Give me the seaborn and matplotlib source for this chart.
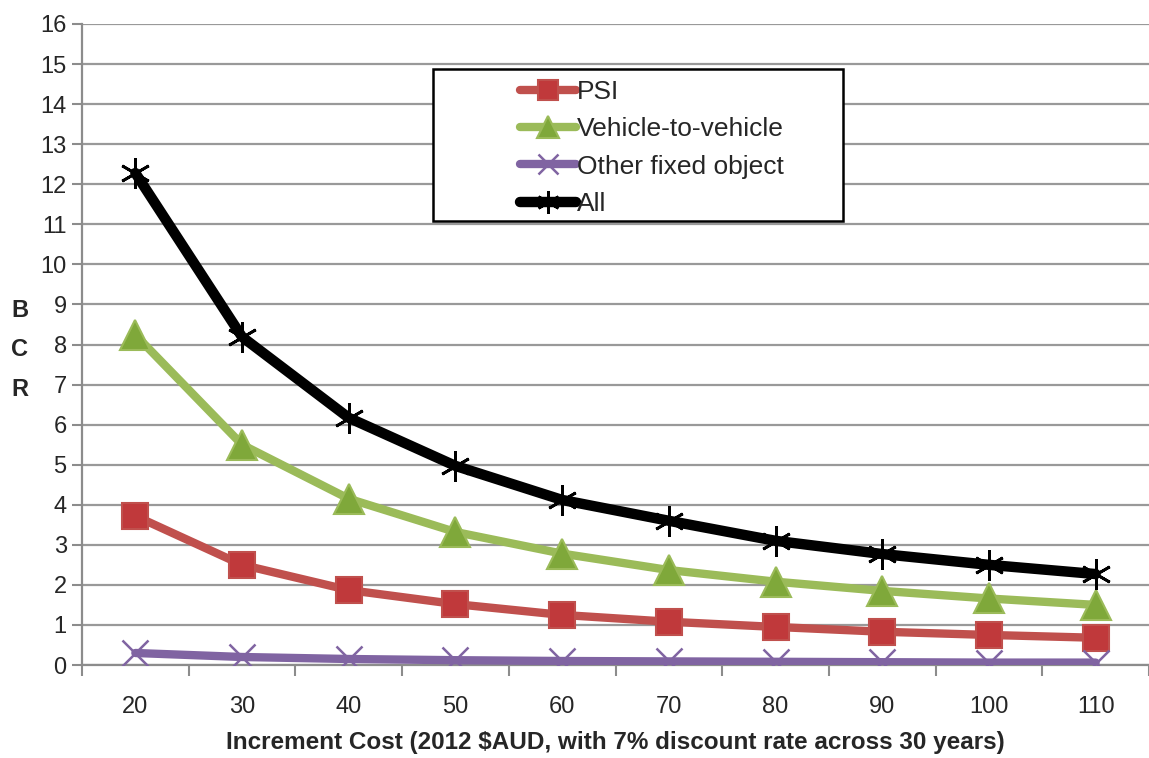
import matplotlib
matplotlib.use("Agg")
import matplotlib.pyplot as plt
import seaborn as sns
import pandas as pd
from matplotlib.patches import Rectangle

costs = [20, 30, 40, 50, 60, 70, 80, 90, 100, 110]
psi = [3.72, 2.5, 1.87, 1.52, 1.25, 1.08, 0.95, 0.83, 0.75, 0.68]
v2v = [8.24, 5.5, 4.15, 3.32, 2.78, 2.37, 2.08, 1.85, 1.66, 1.5]
other = [0.3, 0.2, 0.15, 0.12, 0.1, 0.09, 0.08, 0.07, 0.06, 0.06]
all_ = [12.28, 8.19, 6.17, 4.97, 4.12, 3.6, 3.1, 2.77, 2.5, 2.27]
series_names = ["PSI", "Vehicle-to-vehicle", "Other fixed object", "All"]
y_ticks = list(range(0, 17))

sns.set_theme(style="white")
plt.rcParams['font.family'] = ['Liberation Sans', 'DejaVu Sans']

df = pd.DataFrame({
    "cost": costs * 4,
    "bcr": psi + v2v + other + all_,
    "series": sum([[n] * len(costs) for n in series_names], []),
})

fig = plt.figure(figsize=(11.49, 7.58), dpi=100)
ax = fig.add_axes([82 / 1149, 1 - 665 / 758, (1149 - 82) / 1149, (665 - 24) / 758])

styles = {
    "PSI": dict(color="#C0504D", lw=6, marker="s", ms=19, mfc="#C0393B", mec="#C0504D", mew=1.5),
    "Vehicle-to-vehicle": dict(color="#9BBB59", lw=6, marker="^", ms=21, mfc="#7FA83A", mec="#9BBB59", mew=1.5),
    "Other fixed object": dict(color="#8064A2", lw=6, marker="x", ms=19, mfc="#8064A2", mec="#8064A2", mew=1.8),
    "All": dict(color="black", lw=7.5, marker=(6, 2, 0), ms=22, mfc="black", mec="black", mew=2),
}

for name in series_names:
    st = styles[name]
    sns.lineplot(data=df[df.series == name], x="cost", y="bcr", ax=ax, label=name,
                 color=st["color"], linewidth=st["lw"], marker=st["marker"],
                 markersize=st["ms"], markerfacecolor=st["mfc"], markeredgecolor=st["mec"],
                 markeredgewidth=st["mew"], solid_capstyle="round", zorder=3)

ax.set_ylim(0, 16)
ax.set_yticks(y_ticks)
ax.set_xlim(15, 15 + (1149 - 82) / 10.72)
ax.set_xticks([15 + 10 * i for i in range(11)])
ax.set_xticklabels([])
ax.set_xticks(costs, minor=True)
ax.set_xticklabels([str(c) for c in costs], minor=True)
ax.tick_params(axis="x", which="major", length=8, width=1.5, color="#8C8C8C", direction="out", bottom=True)
ax.tick_params(axis="x", which="minor", length=0, labelsize=17, pad=22)
ax.tick_params(axis="y", length=7, width=1.5, color="#8C8C8C", direction="out", left=True, labelsize=17, pad=4)

ax.grid(axis="y", color="#999999", linewidth=1.6)
ax.set_axisbelow(True)
for s in ["top", "right"]:
    ax.spines[s].set_visible(False)
for s in ["left", "bottom"]:
    ax.spines[s].set_color("#8C8C8C")
    ax.spines[s].set_linewidth(1.6)

ax.set_xlabel("Increment Cost (2012 $AUD, with 7% discount rate across 30 years)",
              fontsize=17.5, fontweight="bold", labelpad=10)
ax.set_ylabel("")
fig.text(20 / 1149, 1 - 350 / 758, "B\nC\nR", fontsize=17, fontweight="bold",
         ha="center", va="center", linespacing=1.9)

ax.add_patch(Rectangle((433 / 1149, 1 - 221 / 758), (843 - 433) / 1149, (221 - 69) / 758,
                       transform=fig.transFigure, fill=True, facecolor="white",
                       edgecolor="black", linewidth=1.8, zorder=4, clip_on=False))
leg = ax.legend(loc="upper left", bbox_to_anchor=(507 / 1149, 1 - 67 / 758),
                bbox_transform=fig.transFigure, frameon=False, fontsize=19,
                handlelength=2.1, handletextpad=0.05, labelspacing=0.5, borderpad=0)
for h in leg.legend_handles:
    h.set_markersize(h.get_markersize() * 0.75)
leg.set_zorder(10)

fig.savefig("out.png", dpi=100)
